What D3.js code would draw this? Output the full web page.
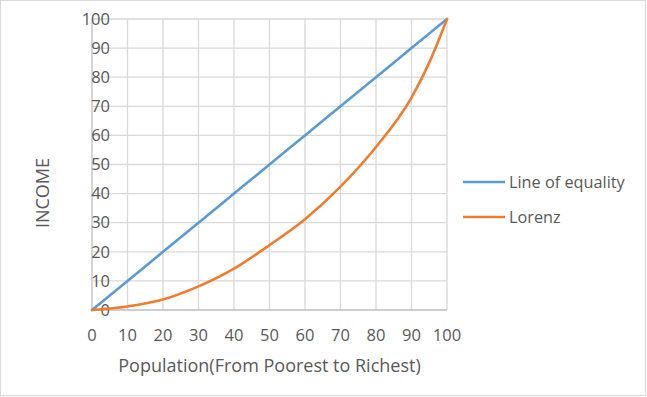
<!DOCTYPE html>
<html>
<head>
<meta charset="utf-8">
<script src="https://cdn.jsdelivr.net/npm/d3@7"></script>
<style>
  body { margin: 0; background: #fff; }
  text { font-family: "Open Sans", sans-serif; fill: #595959; }
</style>
</head>
<body>
<div id="chart"></div>
<script>
// population share (x) and cumulative income share for each series
const population = [0, 10, 20, 30, 40, 50, 60, 70, 80, 90, 95, 100];
const equality = [0, 10, 20, 30, 40, 50, 60, 70, 80, 90, 95, 100];
const lorenz = [0, 1.2, 3.6, 8.1, 14.2, 22.3, 31.2, 42.4, 56, 73, 85, 100];
const ticks = [0, 10, 20, 30, 40, 50, 60, 70, 80, 90, 100];
const seriesNames = ["Line of equality", "Lorenz"];
const seriesColors = ["#5b9bd5", "#ed7d31"];

const width = 647, height = 397;
const plot = { left: 92, right: 447, top: 19, bottom: 310 };

const svg = d3.select("#chart").append("svg")
    .attr("width", width)
    .attr("height", height);

// outer border
svg.append("rect")
    .attr("x", 0.5).attr("y", 0.5)
    .attr("width", 645).attr("height", 395)
    .attr("fill", "#fff")
    .attr("stroke", "#d9d9d9");

const x = d3.scaleLinear().domain([0, 100]).range([plot.left, plot.right]);
const y = d3.scaleLinear().domain([0, 100]).range([plot.bottom, plot.top]);

// gridlines
svg.append("g")
    .selectAll("line")
    .data(ticks)
    .join("line")
    .attr("x1", d => x(d)).attr("x2", d => x(d))
    .attr("y1", plot.top).attr("y2", plot.bottom)
    .attr("stroke", d => d === 0 ? "#bfbfbf" : "#d9d9d9")
    .attr("stroke-width", 1.3);

svg.append("g")
    .selectAll("line")
    .data(ticks)
    .join("line")
    .attr("x1", plot.left).attr("x2", plot.right)
    .attr("y1", d => y(d)).attr("y2", d => y(d))
    .attr("stroke", d => d === 0 ? "#bfbfbf" : "#d9d9d9")
    .attr("stroke-width", 1.3);

// y tick labels (sit over the axis, like the original)
svg.append("g")
    .selectAll("text")
    .data(ticks)
    .join("text")
    .attr("x", 110)
    .attr("y", d => y(d))
    .attr("dy", "0.35em")
    .attr("text-anchor", "end")
    .style("font-size", "16.5px")
    .text(d => d);

// x tick labels
svg.append("g")
    .selectAll("text")
    .data(ticks)
    .join("text")
    .attr("x", d => x(d))
    .attr("y", 335)
    .attr("dy", "0.35em")
    .attr("text-anchor", "middle")
    .style("font-size", "16.5px")
    .text(d => d);

// axis titles
svg.append("text")
    .attr("x", (plot.left + plot.right) / 2)
    .attr("y", 366)
    .attr("dy", "0.35em")
    .attr("text-anchor", "middle")
    .style("font-size", "18px")
    .text("Population(From Poorest to Richest)");

svg.append("text")
    .attr("transform", "translate(43,193) rotate(-90)")
    .attr("dy", "0.35em")
    .attr("text-anchor", "middle")
    .style("font-size", "18px")
    .text("INCOME");

// lines
const line = d3.line()
    .x(d => x(d[0]))
    .y(d => y(d[1]))
    .curve(d3.curveMonotoneX);

const series = [equality, lorenz];
svg.append("g")
    .selectAll("path")
    .data(series)
    .join("path")
    .attr("d", s => line(population.map((p, i) => [p, s[i]])))
    .attr("fill", "none")
    .attr("stroke", (s, i) => seriesColors[i])
    .attr("stroke-width", 2.6)
    .attr("stroke-linecap", "round");

// legend
const legend = svg.append("g")
    .selectAll("g")
    .data(seriesNames)
    .join("g")
    .attr("transform", (d, i) => "translate(463," + (182 + i * 35) + ")");

legend.append("line")
    .attr("x1", 0).attr("x2", 42)
    .attr("stroke", (d, i) => seriesColors[i])
    .attr("stroke-width", 2.6);

legend.append("text")
    .attr("x", 46)
    .attr("dy", "0.35em")
    .style("font-size", "16.3px")
    .text(d => d);
</script>
</body>
</html>
